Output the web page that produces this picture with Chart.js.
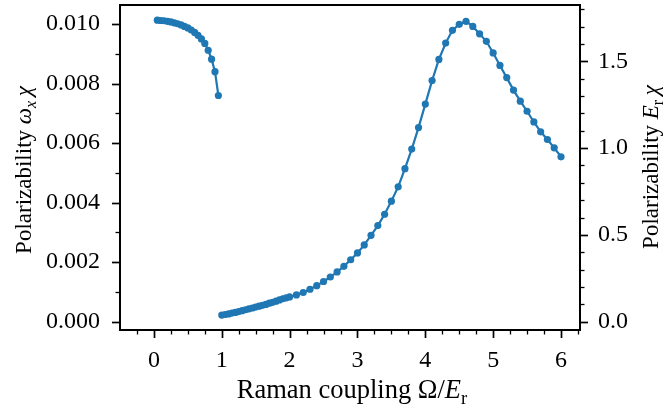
<!DOCTYPE html>
<html>
<head>
    <meta charset="utf-8" />
    <script src="https://cdn.jsdelivr.net/npm/chart.js@4.4.1/dist/chart.umd.min.js"></script>
    <style>
        body { margin: 0; background: #fff; }
        canvas { display: block; }
    </style>
</head>
<body>
    <canvas id="my-chart" width="665" height="410"></canvas>
    <script>
        // branch below Omega = 1
        const omegaLow = [0.05, 0.1, 0.15, 0.2, 0.25, 0.3, 0.35, 0.4, 0.45, 0.5, 0.55, 0.6, 0.65, 0.7, 0.75, 0.8, 0.85, 0.9, 0.95];
        const chiLow = [0.01013, 0.01012, 0.01011, 0.01009, 0.01007, 0.01004, 0.01001, 0.00997, 0.00992, 0.00987, 0.0098, 0.00972, 0.00962, 0.0095, 0.00935, 0.00912, 0.00882, 0.0084, 0.0076];

        // branch above Omega = 1
        const omegaHigh = [
            1.0, 1.05, 1.1, 1.15, 1.2, 1.25, 1.3, 1.35, 1.4, 1.45, 1.5, 1.55, 1.6, 1.65, 1.7, 1.75, 1.8, 1.85, 1.9, 1.95,
            2.0, 2.1, 2.2, 2.3, 2.4, 2.5, 2.6, 2.7, 2.8, 2.9, 3.0, 3.1, 3.2, 3.3, 3.4, 3.5, 3.6, 3.7, 3.8, 3.9,
            4.0, 4.1, 4.2, 4.3, 4.4, 4.5, 4.6, 4.7, 4.8, 4.9, 5.0, 5.1, 5.2, 5.3, 5.4, 5.5, 5.6, 5.7, 5.8, 5.9, 6.0,
        ];
        const chiHigh = [
            0.00022, 0.00024, 0.00026, 0.00029, 0.00031, 0.00034, 0.00037, 0.0004, 0.00043, 0.00046,
            0.00049, 0.00052, 0.00055, 0.00058, 0.00062, 0.00065, 0.00069, 0.00073, 0.00077, 0.0008,
            0.00083, 0.0009, 0.00098, 0.00109, 0.00121, 0.00135, 0.0015, 0.00167, 0.00186, 0.00208,
            0.00231, 0.00258, 0.0029, 0.00323, 0.00361, 0.00405, 0.00453, 0.00514, 0.0058, 0.00652,
            0.00731, 0.0081, 0.00881, 0.00936, 0.00979, 0.00999, 0.01009, 0.00992, 0.00967, 0.00942,
            0.00903, 0.00861, 0.0082, 0.00778, 0.00741, 0.00707, 0.00671, 0.00638, 0.00612, 0.00584, 0.00554,
        ];

        // ticks
        const xMajor = [0, 1, 2, 3, 4, 5, 6];
        const xMinor = [-0.25, 0.25, 0.5, 0.75, 1.25, 1.5, 1.75, 2.25, 2.5, 2.75, 3.25, 3.5, 3.75, 4.25, 4.5, 4.75, 5.25, 5.5, 5.75, 6.25];
        const yMajor = [0, 0.002, 0.004, 0.006, 0.008, 0.01];
        const yMinor = [0.001, 0.003, 0.005, 0.007, 0.009];
        const y2Major = [0, 0.5, 1.0, 1.5];
        const y2Minor = [0.1, 0.2, 0.3, 0.4, 0.6, 0.7, 0.8, 0.9, 1.1, 1.2, 1.3, 1.4, 1.6, 1.7, 1.8];

        const xMin = -0.5;
        const xMax = 6.28;
        const yMin = -0.00028;
        const yMax = 0.01064;
        const unitRatio = 171.5; // right axis = left axis * ratio

        const blue = "#1f77b4";
        const serif = "'Liberation Serif', 'DejaVu Serif', serif";
        const tickSize = 24;

        const toPoints = (xs, ys) => xs.map((x, i) => ({ x: x, y: ys[i] }));

        const setTicks = (values) => (scale) => {
            scale.ticks = values.map((v) => ({ value: v }));
        };

        // fixed box sizes so the plot area lands where the reference has it
        const fixBox = (w, h) => (s) => {
            if (w) s.width = w;
            if (h) s.height = h;
            s.paddingTop = 0;
            s.paddingBottom = 0;
            s.paddingLeft = 0;
            s.paddingRight = 0;
        };

        // draws a label made of plain / italic / subscript pieces
        const drawRich = (ctx, parts, size, cx, cy, angle) => {
            const fontOf = (p) => {
                const s = p.sub ? size * 0.7 : size;
                return (p.italic ? "italic " : "") + s + "px " + serif;
            };
            ctx.save();
            ctx.translate(cx, cy);
            ctx.rotate(angle);
            ctx.fillStyle = "#000";
            ctx.textBaseline = "alphabetic";
            ctx.textAlign = "left";
            let total = 0;
            parts.forEach((p) => {
                ctx.font = fontOf(p);
                p.w = ctx.measureText(p.t).width;
                total += p.w;
            });
            let x = -total / 2;
            const base = size * 0.32;
            parts.forEach((p) => {
                ctx.font = fontOf(p);
                ctx.fillText(p.t, x, p.sub ? base + size * 0.22 : base);
                x += p.w;
            });
            ctx.restore();
        };

        const frame = {
            id: "frame",
            afterDraw(chart) {
                const ctx = chart.ctx;
                const a = chart.chartArea;
                const sx = chart.scales.x;
                const sy = chart.scales.y;
                const sy2 = chart.scales.y2;
                ctx.save();
                ctx.strokeStyle = "#000";
                ctx.lineCap = "butt";

                // tick marks, pointing outwards
                const tick = (len, width, values, scale, side) => {
                    ctx.lineWidth = width;
                    values.forEach((v) => {
                        const p = Math.round(scale.getPixelForValue(v)) + 0.5;
                        ctx.beginPath();
                        if (side === "bottom") {
                            ctx.moveTo(p, a.bottom);
                            ctx.lineTo(p, a.bottom + len);
                        } else if (side === "left") {
                            ctx.moveTo(a.left, p);
                            ctx.lineTo(a.left - len, p);
                        } else {
                            ctx.moveTo(a.right, p);
                            ctx.lineTo(a.right + len, p);
                        }
                        ctx.stroke();
                    });
                };
                tick(8, 1.7, xMajor, sx, "bottom");
                tick(4.5, 1.3, xMinor, sx, "bottom");
                tick(8, 1.7, yMajor, sy, "left");
                tick(4.5, 1.3, yMinor, sy, "left");
                tick(8, 1.7, y2Major, sy2, "right");
                tick(4.5, 1.3, y2Minor, sy2, "right");

                // spines
                ctx.lineWidth = 2;
                ctx.strokeRect(a.left, a.top, a.right - a.left, a.bottom - a.top);
                ctx.restore();

                // axis titles
                drawRich(ctx, [
                    { t: "Raman coupling Ω/" },
                    { t: "E", italic: true },
                    { t: "r", sub: true },
                ], 26.5, 352, 390, 0);
                drawRich(ctx, [
                    { t: "Polarizability " },
                    { t: "ω", italic: true },
                    { t: "x", italic: true, sub: true },
                    { t: "\u2009χ", italic: true },
                ], 23, 24, 170, -Math.PI / 2);
                drawRich(ctx, [
                    { t: "Polarizability " },
                    { t: "E", italic: true },
                    { t: "r", sub: true },
                    { t: "\u2009χ", italic: true },
                ], 23, 651, 167, -Math.PI / 2);
            },
        };

        const tickFont = { family: serif, size: tickSize };

        const ctx = document.getElementById("my-chart").getContext("2d");
        const chart = new Chart(ctx, {
            type: "line",
            data: {
                datasets: [
                    {
                        data: toPoints(omegaLow, chiLow),
                        borderColor: blue,
                        backgroundColor: blue,
                        yAxisID: "y",
                    },
                    {
                        data: toPoints(omegaHigh, chiHigh),
                        borderColor: blue,
                        backgroundColor: blue,
                        yAxisID: "y",
                    },
                ],
            },
            options: {
                responsive: false,
                animation: false,
                layout: { padding: { top: 5, left: 0, right: 0, bottom: 0 } },
                elements: {
                    line: { borderWidth: 2.2, tension: 0 },
                    point: { radius: 3.6, borderWidth: 0 },
                },
                plugins: {
                    legend: { display: false },
                    tooltip: { enabled: false },
                },
                scales: {
                    x: {
                        type: "linear",
                        position: "bottom",
                        min: xMin,
                        max: xMax,
                        grid: { display: false, drawTicks: false },
                        border: { display: false },
                        afterBuildTicks: setTicks(xMajor),
                        afterFit: fixBox(0, 80),
                        ticks: {
                            font: tickFont,
                            color: "#000",
                            padding: 16,
                            maxRotation: 0,
                            autoSkip: false,
                            callback: (v) => String(v),
                        },
                    },
                    y: {
                        type: "linear",
                        position: "left",
                        min: yMin,
                        max: yMax,
                        grid: { display: false, drawTicks: false },
                        border: { display: false },
                        afterBuildTicks: setTicks(yMajor),
                        afterFit: fixBox(120, 0),
                        ticks: {
                            font: tickFont,
                            color: "#000",
                            padding: 20,
                            autoSkip: false,
                            callback: (v) => v.toFixed(3),
                        },
                    },
                    y2: {
                        type: "linear",
                        position: "right",
                        min: yMin * unitRatio,
                        max: yMax * unitRatio,
                        grid: { display: false, drawTicks: false },
                        border: { display: false },
                        afterBuildTicks: setTicks(y2Major),
                        afterFit: fixBox(85, 0),
                        ticks: {
                            font: tickFont,
                            color: "#000",
                            padding: 18,
                            autoSkip: false,
                            callback: (v) => v.toFixed(1),
                        },
                    },
                },
            },
            plugins: [frame],
        }); // closes chart = new Chart()
    </script>
</body>
</html>
